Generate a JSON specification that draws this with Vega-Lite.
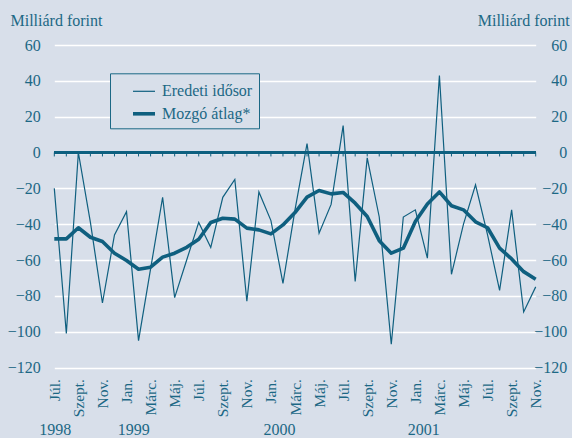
{
  "$schema": "https://vega.github.io/schema/vega-lite/v6.json",
  "autosize": {"type": "none"},
  "width": 481.4,
  "height": 322.5,
  "padding": {"left": 54.3, "top": 45, "right": 36.3, "bottom": 70.5},
  "background": "#d8dfea",
  "config": {
    "view": {"stroke": null},
    "font": "Liberation Serif, Times New Roman, serif",
    "axis": {"labelFont": "Liberation Serif, Times New Roman, serif", "titleFont": "Liberation Serif, Times New Roman, serif", "labelColor": "#1c6885", "titleColor": "#1c6885", "titleFontWeight": "normal"},
    "legend": {"labelFont": "Liberation Serif, Times New Roman, serif"}
  },
  "datasets": {
    "series": [
      {"i": 0, "series": "Eredeti idősor", "value": -20},
      {"i": 1, "series": "Eredeti idősor", "value": -101},
      {"i": 2, "series": "Eredeti idősor", "value": 0},
      {"i": 3, "series": "Eredeti idősor", "value": -39},
      {"i": 4, "series": "Eredeti idősor", "value": -84},
      {"i": 5, "series": "Eredeti idősor", "value": -46},
      {"i": 6, "series": "Eredeti idősor", "value": -33},
      {"i": 7, "series": "Eredeti idősor", "value": -105},
      {"i": 8, "series": "Eredeti idősor", "value": -65},
      {"i": 9, "series": "Eredeti idősor", "value": -25},
      {"i": 10, "series": "Eredeti idősor", "value": -81},
      {"i": 11, "series": "Eredeti idősor", "value": -60},
      {"i": 12, "series": "Eredeti idősor", "value": -39},
      {"i": 13, "series": "Eredeti idősor", "value": -53},
      {"i": 14, "series": "Eredeti idősor", "value": -25},
      {"i": 15, "series": "Eredeti idősor", "value": -15},
      {"i": 16, "series": "Eredeti idősor", "value": -83},
      {"i": 17, "series": "Eredeti idősor", "value": -22},
      {"i": 18, "series": "Eredeti idősor", "value": -38},
      {"i": 19, "series": "Eredeti idősor", "value": -73},
      {"i": 20, "series": "Eredeti idősor", "value": -32},
      {"i": 21, "series": "Eredeti idősor", "value": 5},
      {"i": 22, "series": "Eredeti idősor", "value": -45},
      {"i": 23, "series": "Eredeti idősor", "value": -29},
      {"i": 24, "series": "Eredeti idősor", "value": 15},
      {"i": 25, "series": "Eredeti idősor", "value": -72},
      {"i": 26, "series": "Eredeti idősor", "value": -3},
      {"i": 27, "series": "Eredeti idősor", "value": -36},
      {"i": 28, "series": "Eredeti idősor", "value": -107},
      {"i": 29, "series": "Eredeti idősor", "value": -36},
      {"i": 30, "series": "Eredeti idősor", "value": -32},
      {"i": 31, "series": "Eredeti idősor", "value": -59},
      {"i": 32, "series": "Eredeti idősor", "value": 43},
      {"i": 33, "series": "Eredeti idősor", "value": -68},
      {"i": 34, "series": "Eredeti idősor", "value": -40},
      {"i": 35, "series": "Eredeti idősor", "value": -18},
      {"i": 36, "series": "Eredeti idősor", "value": -46},
      {"i": 37, "series": "Eredeti idősor", "value": -77},
      {"i": 38, "series": "Eredeti idősor", "value": -32},
      {"i": 39, "series": "Eredeti idősor", "value": -89},
      {"i": 40, "series": "Eredeti idősor", "value": -75},
      {"i": 0, "series": "Mozgó átlag*", "value": -48.2},
      {"i": 1, "series": "Mozgó átlag*", "value": -48.2},
      {"i": 2, "series": "Mozgó átlag*", "value": -42},
      {"i": 3, "series": "Mozgó átlag*", "value": -47.3},
      {"i": 4, "series": "Mozgó átlag*", "value": -49.7},
      {"i": 5, "series": "Mozgó átlag*", "value": -56.2},
      {"i": 6, "series": "Mozgó átlag*", "value": -60.3},
      {"i": 7, "series": "Mozgó átlag*", "value": -65.2},
      {"i": 8, "series": "Mozgó átlag*", "value": -64},
      {"i": 9, "series": "Mozgó átlag*", "value": -58.4},
      {"i": 10, "series": "Mozgó átlag*", "value": -56.2},
      {"i": 11, "series": "Mozgó átlag*", "value": -52.9},
      {"i": 12, "series": "Mozgó átlag*", "value": -48.4},
      {"i": 13, "series": "Mozgó átlag*", "value": -39.1},
      {"i": 14, "series": "Mozgó átlag*", "value": -36.7},
      {"i": 15, "series": "Mozgó átlag*", "value": -37.2},
      {"i": 16, "series": "Mozgó átlag*", "value": -42.2},
      {"i": 17, "series": "Mozgó átlag*", "value": -43.2},
      {"i": 18, "series": "Mozgó átlag*", "value": -45.4},
      {"i": 19, "series": "Mozgó átlag*", "value": -40.4},
      {"i": 20, "series": "Mozgó átlag*", "value": -33.5},
      {"i": 21, "series": "Mozgó átlag*", "value": -24.9},
      {"i": 22, "series": "Mozgó átlag*", "value": -21.2},
      {"i": 23, "series": "Mozgó átlag*", "value": -23.1},
      {"i": 24, "series": "Mozgó átlag*", "value": -22.3},
      {"i": 25, "series": "Mozgó átlag*", "value": -28.3},
      {"i": 26, "series": "Mozgó átlag*", "value": -35.7},
      {"i": 27, "series": "Mozgó átlag*", "value": -49.2},
      {"i": 28, "series": "Mozgó átlag*", "value": -56.2},
      {"i": 29, "series": "Mozgó átlag*", "value": -53.4},
      {"i": 30, "series": "Mozgó átlag*", "value": -38.5},
      {"i": 31, "series": "Mozgó átlag*", "value": -28.8},
      {"i": 32, "series": "Mozgó átlag*", "value": -22},
      {"i": 33, "series": "Mozgó átlag*", "value": -29.7},
      {"i": 34, "series": "Mozgó átlag*", "value": -32},
      {"i": 35, "series": "Mozgó átlag*", "value": -38.7},
      {"i": 36, "series": "Mozgó átlag*", "value": -42},
      {"i": 37, "series": "Mozgó átlag*", "value": -53.4},
      {"i": 38, "series": "Mozgó átlag*", "value": -59.4},
      {"i": 39, "series": "Mozgó átlag*", "value": -66.5},
      {"i": 40, "series": "Mozgó átlag*", "value": -70.7}
    ]
  },
  "data": {"name": "series"},
  "layer": [
    {
      "mark": {"type": "rule", "stroke": "#0f5f7f", "strokeWidth": 1.5},
      "encoding": {"y": {"datum": 0, "type": "quantitative", "scale": {"domain": [-120, 60], "nice": false, "zero": false}, "axis": null}}
    },
    {
      "transform": [{"filter": "datum.series === 'Mozgó átlag*'"}],
      "mark": {"type": "rule", "stroke": "#0f5f7f", "strokeWidth": 1},
      "encoding": {
        "x": {"field": "i", "type": "quantitative", "axis": null},
        "y": {"datum": 0, "type": "quantitative", "axis": null},
        "y2": {"datum": -2.2}
      }
    },
    {
      "transform": [{"filter": "datum.series === 'Eredeti idősor'"}],
      "mark": {"type": "line", "stroke": "#0f5f7f"},
      "encoding": {
        "x": {"field": "i", "type": "quantitative", "scale": {"domain": [0, 40], "nice": false, "zero": false},
          "axis": {"orient": "bottom", "values": [0,2,4,6,8,10,12,14,16,18,20,22,24,26,28,30,32,34,36,38,40], "labelExpr": "['Júl.','Szept.','Nov.','Jan.','Márc.','Máj.'][(datum.value/2)%6]", "labelAngle": -90, "labelFontSize": 15.5, "labelPadding": 11, "grid": false, "ticks": false, "domain": false, "title": null}},
        "y": {"field": "value", "type": "quantitative", "scale": {"domain": [-120, 60], "nice": false, "zero": false},
          "axis": {"orient": "left", "values": [-120,-100,-80,-60,-40,-20,0,20,40,60], "labelFontSize": 16, "labelPadding": 14, "ticks": false, "domain": false, "grid": true, "gridColor": "#ffffff", "gridWidth": 1.6, "gridOpacity": 1,
            "title": "Milliárd forint", "titleAngle": 0, "titleFontSize": 16, "titleX": -44.3, "titleY": -20, "titleAlign": "left", "titleBaseline": "alphabetic"}},
        "strokeWidth": {"field": "series", "type": "nominal", "scale": {"domain": ["Eredeti idősor", "Mozgó átlag*"], "range": [1.2, 3.6]},
          "legend": {"title": null, "orient": "none", "legendX": 55.7, "legendY": 28.3, "symbolType": "stroke", "symbolStrokeColor": "#0f5f7f", "symbolSize": 484, "labelFontSize": 16, "labelColor": "#1c6885", "labelOffset": 5, "symbolOffset": 15, "padding": 6, "rowPadding": 1.5, "strokeColor": "#1c6885", "fillColor": "#d8dfea", "labelLimit": 300}}
      }
    },
    {
      "transform": [{"filter": "datum.series === 'Mozgó átlag*'"}],
      "mark": {"type": "line", "stroke": "#0f5f7f", "strokeJoin": "round"},
      "encoding": {
        "x": {"field": "i", "type": "quantitative",
          "axis": {"orient": "bottom", "values": [0.03, 6.57, 18.67, 30.66], "labelExpr": "datum.value < 1 ? '1998' : datum.value < 10 ? '1999' : datum.value < 20 ? '2000' : '2001'", "labelFontSize": 16, "labelPadding": 54, "labelAngle": 0, "labelAlign": "center", "labelBaseline": "top", "labelOverlap": false, "labelFlush": false, "grid": false, "ticks": false, "domain": false, "title": null}},
        "y": {"field": "value", "type": "quantitative",
          "axis": {"orient": "right", "values": [-120,-100,-80,-60,-40,-20,0,20,40,60], "labelFontSize": 16, "labelPadding": 31, "labelAlign": "right", "ticks": false, "domain": false, "grid": false,
            "title": "Milliárd forint", "titleAngle": 0, "titleFontSize": 16, "titleX": 33.5, "titleY": -20, "titleAlign": "right", "titleBaseline": "alphabetic"}},
        "strokeWidth": {"field": "series", "type": "nominal"}
      }
    }
  ],
  "resolve": {"axis": {"x": "independent", "y": "independent"}}
}
